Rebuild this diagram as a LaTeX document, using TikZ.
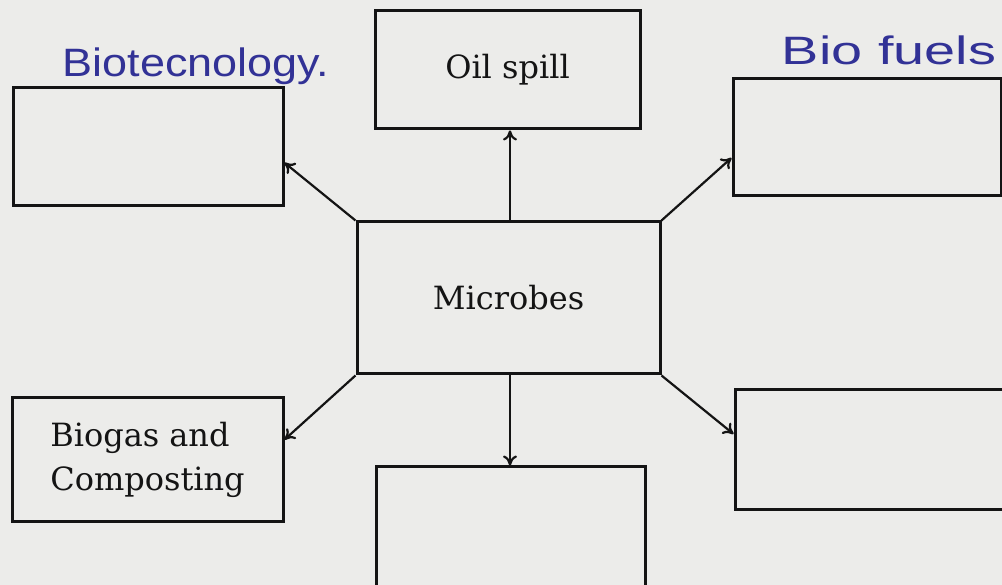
\documentclass[tikz,border=0pt]{standalone}
\usepackage{fontspec}
\newfontfamily\handfont{Liberation Sans}
\newfontfamily\printfont{DejaVu Serif}
\usetikzlibrary{calc,arrows.meta}
\definecolor{paper}{RGB}{236,236,234}
\definecolor{ink}{RGB}{20,20,20}
\definecolor{pen}{RGB}{50,50,150}
\tikzset{
  box/.style={draw=ink, line width=3.0pt, inner sep=0pt, anchor=center, fill=none},
  link/.style={draw=ink, line width=2.2pt, -{To[length=10pt,width=14pt]}},
  lbl/.style={font=\printfont\fontsize{32}{44}\selectfont, text=ink},
  hand/.style={font=\handfont\fontsize{36}{40}\selectfont, text=pen}
}
\begin{document}
\begin{tikzpicture}[x=1pt,y=1pt]
\fill[paper] (0,0) rectangle (1002,585);
\useasboundingbox (0,0) rectangle (1002,585);
\begin{scope}
\clip (0,0) rectangle (1002,585);
\node[box, minimum width=270pt, minimum height=118pt] (tl) at (148,438) {};
\node[box, minimum width=265pt, minimum height=118pt, lbl] (oil) at (507.5,515) {Oil spill};
\node[box, minimum width=268pt, minimum height=117pt] (tr) at (867,447.5) {};
\node[box, minimum width=303pt, minimum height=152pt, lbl] (mic) at (508.5,287) {Microbes};
\node[box, minimum width=271pt, minimum height=124pt, lbl, align=left] (bl) at (147.5,125) {Biogas and\\Composting};
\node[box, minimum width=269pt, minimum height=120pt] (bc) at (510.5,58) {};
\node[box, minimum width=270pt, minimum height=120pt] (br) at (870,135) {};

\coordinate (mt) at ([xshift=1.5pt]mic.north);
\coordinate (mb) at ([xshift=1.5pt]mic.south);
\draw[link] (mic.north west) -- ($(tl.south east)!0.37!(tl.north east)$);
\draw[link] (mt) -- (mt |- oil.south);
\draw[link] (mic.north east) -- ($(tr.south west)!0.33!(tr.north west)$);
\draw[link] (mic.south west) -- ($(bl.south east)!0.66!(bl.north east)$);
\draw[link] (mb) -- (mb |- bc.north);
\draw[link] (mic.south east) -- ($(br.south west)!0.63!(br.north west)$);

\node[hand, xscale=1.25, yscale=1.1] (bt) at (196,519) {Biotecnology.};
\node[hand, xscale=1.55, yscale=1.1] (bf) at (889,535) {Bio fuels};
\end{scope}
\end{tikzpicture}
\end{document}
